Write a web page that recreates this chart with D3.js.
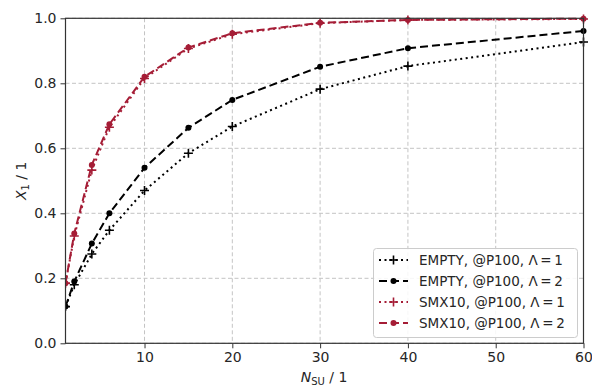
<!DOCTYPE html>
<html><head><meta charset="utf-8">
<script src="https://cdn.jsdelivr.net/npm/d3@7"></script>
<style>body{margin:0;background:#fff}svg{display:block}text{font-family:"DejaVu Sans",sans-serif}</style>
</head><body><svg id="c" width="592" height="387"></svg>
<script>
const nsu = [1, 2, 4, 6, 10, 15, 20, 30, 40, 60];
const emptyL1 = [0.113, 0.18, 0.275, 0.348, 0.47, 0.585, 0.667, 0.782, 0.853, 0.927];
const emptyL2 = [0.113, 0.19, 0.307, 0.40, 0.54, 0.663, 0.749, 0.851, 0.908, 0.961];
const smxL1 = [0.185, 0.33, 0.533, 0.665, 0.815, 0.907, 0.951, 0.985, 0.995, 0.998];
const smxL2 = [0.185, 0.338, 0.549, 0.674, 0.82, 0.91, 0.954, 0.986, 0.995, 0.999];
const xTicks = [10, 20, 30, 40, 50, 60];
const yTicks = [0, 0.2, 0.4, 0.6, 0.8, 1.0];
const seriesNames = ["EMPTY, @P100, Λ\u2009=\u20091", "EMPTY, @P100, Λ\u2009=\u20092", "SMX10, @P100, Λ\u2009=\u20091", "SMX10, @P100, Λ\u2009=\u20092"];

const red = "#a51d36";
const series = [
  {name: seriesNames[0], vals: emptyL1, color: "#000", dash: "2,3.5", marker: "plus"},
  {name: seriesNames[1], vals: emptyL2, color: "#000", dash: "8,4", marker: "dot"},
  {name: seriesNames[2], vals: smxL1, color: red, dash: "2,3.5", marker: "plus"},
  {name: seriesNames[3], vals: smxL2, color: red, dash: "8,4", marker: "dot"}
];

const svg = d3.select("#c");
const L = 65.5, R = 583.5, T = 18.3, B = 343.3;
const x = d3.scaleLinear().domain([1, 60]).range([L, R]);
const y = d3.scaleLinear().domain([0, 1]).range([B, T]);

// grid
const g = svg.append("g");
g.selectAll(".gx").data(xTicks).join("line")
  .attr("x1", d => x(d)).attr("x2", d => x(d)).attr("y1", T).attr("y2", B)
  .attr("stroke", "#c4c4c4").attr("stroke-width", 1).attr("stroke-dasharray", "4,2.5");
g.selectAll(".gy").data(yTicks).join("line")
  .attr("x1", L).attr("x2", R).attr("y1", d => y(d)).attr("y2", d => y(d))
  .attr("stroke", "#c4c4c4").attr("stroke-width", 1).attr("stroke-dasharray", "4,2.5");

// lines
const line = d3.line().x((d, i) => x(nsu[i])).y(d => y(d));
const clip = svg.append("clipPath").attr("id", "clp").append("rect")
  .attr("x", L).attr("y", T - 6).attr("width", R - L + 6).attr("height", B - T + 6);

function drawMarker(sel, type, color) {
  if (type === "plus") {
    sel.append("path").attr("d", "M-4.5,0H4.5M0,-4.5V4.5").attr("stroke", color).attr("stroke-width", 1.6).attr("fill", "none");
  } else {
    sel.append("circle").attr("r", 3).attr("fill", color);
  }
}

series.forEach(s => {
  const sg = svg.append("g").attr("clip-path", "url(#clp)");
  sg.append("path").datum(s.vals).attr("d", line).attr("fill", "none")
    .attr("stroke", s.color).attr("stroke-width", 2).attr("stroke-dasharray", s.dash);
  s.vals.forEach((v, i) => {
    const m = sg.append("g").attr("transform", `translate(${x(nsu[i])},${y(v)})`);
    drawMarker(m, s.marker, s.color);
  });
});

// axes
const xAxis = d3.axisBottom(x).tickValues(xTicks).tickSize(5).tickPadding(4).tickFormat(d3.format("d"));
const yAxis = d3.axisLeft(y).tickValues(yTicks).tickSize(5).tickPadding(4).tickFormat(d3.format(".1f"));
const ax = svg.append("g").attr("transform", `translate(0,${B})`).call(xAxis);
const ay = svg.append("g").attr("transform", `translate(${L},0)`).call(yAxis);
[ax, ay].forEach(a => {
  a.select(".domain").remove();
  a.selectAll("line").attr("stroke", "#333").attr("stroke-width", 1);
  a.selectAll("text").attr("font-size", 14).attr("fill", "#262626").attr("font-family", "DejaVu Sans");
});
svg.append("rect").attr("x", L).attr("y", T).attr("width", R - L).attr("height", B - T)
  .attr("fill", "none").attr("stroke", "#333").attr("stroke-width", 1.2);

// axis labels
const xl = svg.append("text").attr("x", 324).attr("y", 382).attr("text-anchor", "middle").attr("font-size", 14).attr("fill", "#262626");
xl.append("tspan").attr("font-style", "italic").text("N");
xl.append("tspan").attr("font-size", 10).attr("dy", 3).text("SU");
xl.append("tspan").attr("dy", -3).text(" / 1");
const yl = svg.append("text").attr("transform", `translate(26,${(T + B) / 2}) rotate(-90)`).attr("text-anchor", "middle").attr("font-size", 14).attr("fill", "#262626");
yl.append("tspan").attr("font-style", "italic").text("X");
yl.append("tspan").attr("font-size", 10).attr("dy", 3).text("1");
yl.append("tspan").attr("dy", -3).text(" / 1");

// legend
const lg = svg.append("g");
lg.append("rect").attr("x", 373.5).attr("y", 248.5).attr("width", 204).attr("height", 89).attr("rx", 3)
  .attr("fill", "#fff").attr("fill-opacity", 0.85).attr("stroke", "#ccc").attr("stroke-width", 1);
series.forEach((s, i) => {
  const yy = 260 + i * 21;
  lg.append("line").attr("x1", 379).attr("x2", 408).attr("y1", yy).attr("y2", yy)
    .attr("stroke", s.color).attr("stroke-width", 2).attr("stroke-dasharray", s.dash);
  const m = lg.append("g").attr("transform", `translate(393.5,${yy})`);
  drawMarker(m, s.marker, s.color);
  lg.append("text").attr("x", 419).attr("y", yy + 5).attr("font-size", 13.5).attr("fill", "#262626").text(s.name);
});
</script></body></html>
